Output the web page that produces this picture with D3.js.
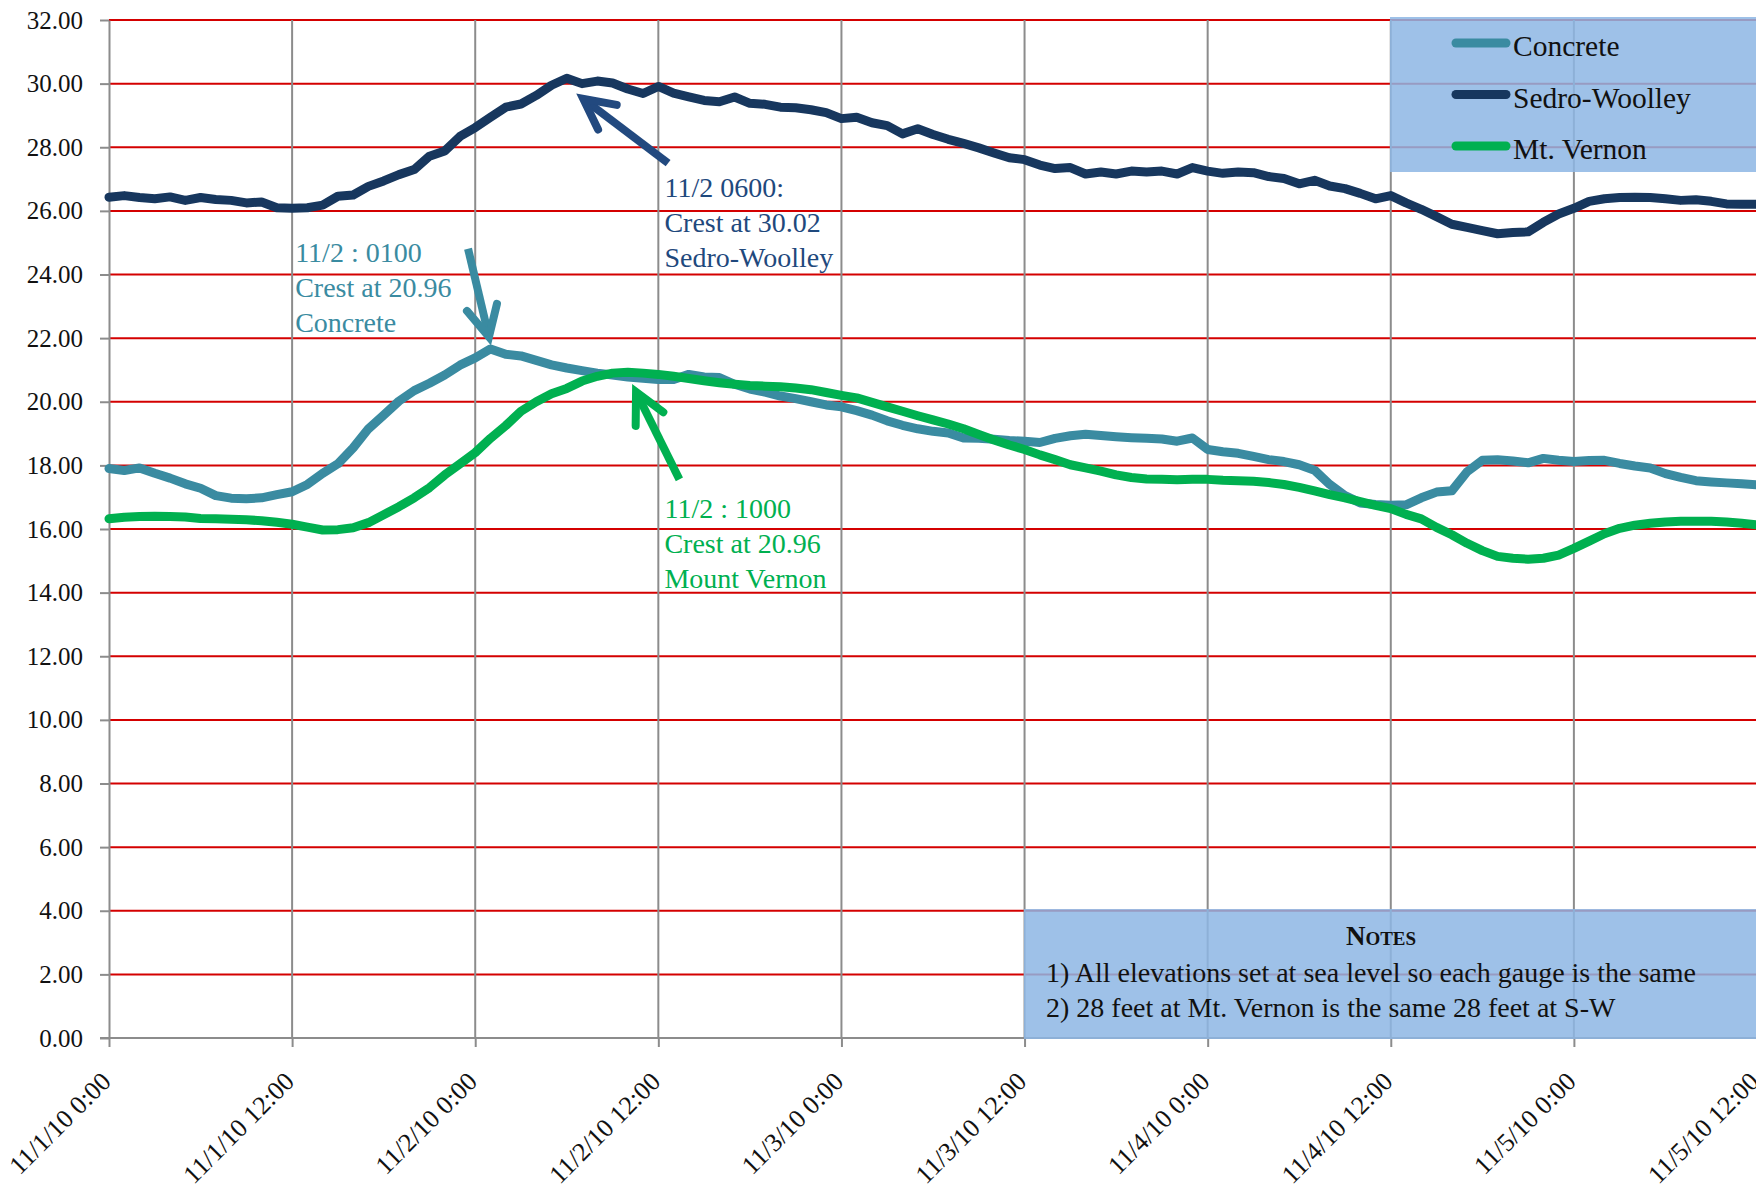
<!DOCTYPE html>
<html>

<head>
    <meta charset="utf-8">
    <title>River gauges 11/1 - 11/5</title>
    <script type="text/javascript" src="https://cdn.jsdelivr.net/npm/d3@7"></script>
    <style>
        body { margin: 0; background: #fff; }
        svg { display: block; font-family: "Liberation Serif", "DejaVu Serif", serif; }
    </style>
</head>

<body>

    <script type="text/javascript">
    /* data: hourly gauge readings starting 11/1/10 0:00 */
    var hours = d3.range(0, 109);

    var concrete = [
        17.90, 17.84, 17.92, 17.75, 17.60, 17.42, 17.28, 17.05, 16.97, 16.95,
        16.98, 17.08, 17.17, 17.40, 17.75, 18.05, 18.55, 19.15, 19.58, 20.02,
        20.35, 20.58, 20.84, 21.15, 21.38, 21.66, 21.49, 21.44, 21.30, 21.16,
        21.06, 20.98, 20.90, 20.84, 20.78, 20.74, 20.70, 20.70, 20.86, 20.78,
        20.76, 20.55, 20.40, 20.30, 20.18, 20.10, 20.00, 19.90, 19.84, 19.72,
        19.58, 19.40, 19.26, 19.15, 19.07, 19.02, 18.86, 18.85, 18.82, 18.78,
        18.76, 18.72, 18.85, 18.93, 18.98, 18.94, 18.90, 18.87, 18.85, 18.83,
        18.76, 18.86, 18.50, 18.43, 18.38, 18.28, 18.18, 18.12, 18.02, 17.85,
        17.40, 17.05, 16.82, 16.77, 16.75, 16.76, 16.98, 17.16, 17.20, 17.80,
        18.16, 18.18, 18.14, 18.08, 18.22, 18.16, 18.12, 18.15, 18.16, 18.06,
        17.98, 17.92, 17.74, 17.62, 17.52, 17.48, 17.45, 17.42, 17.39
    ];

    var sedroWoolley = [
        26.43, 26.48, 26.42, 26.38, 26.44, 26.33, 26.42, 26.36, 26.33, 26.25,
        26.28, 26.10, 26.08, 26.10, 26.18, 26.46, 26.50, 26.77, 26.94, 27.14,
        27.30, 27.72, 27.88, 28.34, 28.62, 28.94, 29.26, 29.36, 29.63, 29.95,
        30.17, 30.00, 30.08, 30.02, 29.83, 29.69, 29.91, 29.70, 29.58, 29.47,
        29.43, 29.58, 29.38, 29.35, 29.26, 29.24, 29.18, 29.09, 28.90, 28.94,
        28.77, 28.68, 28.42, 28.58, 28.40, 28.25, 28.12, 27.98, 27.82, 27.67,
        27.61, 27.44, 27.33, 27.36, 27.16, 27.22, 27.16, 27.25, 27.22, 27.25,
        27.16, 27.36, 27.25, 27.18, 27.22, 27.20, 27.08, 27.02, 26.85, 26.96,
        26.78, 26.70, 26.55, 26.38, 26.48, 26.25, 26.05, 25.82, 25.58, 25.48,
        25.38, 25.28, 25.32, 25.34, 25.64, 25.90, 26.08, 26.30, 26.38, 26.42,
        26.43, 26.42, 26.38, 26.33, 26.35, 26.30, 26.22, 26.21, 26.21
    ];

    var mtVernon = [
        16.32, 16.37, 16.39, 16.40, 16.39, 16.38, 16.33, 16.32, 16.31, 16.29,
        16.26, 16.21, 16.15, 16.06, 15.97, 15.98, 16.04, 16.20, 16.45, 16.70,
        16.98, 17.30, 17.70, 18.05, 18.40, 18.85, 19.25, 19.70, 20.00, 20.25,
        20.42, 20.65, 20.80, 20.90, 20.93, 20.90, 20.86, 20.80, 20.73, 20.66,
        20.60, 20.55, 20.51, 20.49, 20.47, 20.43, 20.38, 20.29, 20.20, 20.12,
        19.98, 19.84, 19.70, 19.56, 19.43, 19.30, 19.15, 18.97, 18.80, 18.64,
        18.50, 18.33, 18.18, 18.02, 17.92, 17.82, 17.70, 17.62, 17.57, 17.56,
        17.55, 17.56, 17.56, 17.53, 17.52, 17.50, 17.46, 17.40, 17.31, 17.20,
        17.08, 16.98, 16.86, 16.74, 16.64, 16.46, 16.32, 16.05, 15.82, 15.55,
        15.32, 15.14, 15.08, 15.05, 15.08, 15.18, 15.39, 15.62, 15.85, 16.02,
        16.12, 16.18, 16.22, 16.24, 16.24, 16.24, 16.22, 16.18, 16.13
    ];

    var seriesNames = ["Concrete", "Sedro-Woolley", "Mt. Vernon"];
    var seriesColors = ["#3a8ba1", "#17375e", "#00b050"];

    var yTicks = [0, 2, 4, 6, 8, 10, 12, 14, 16, 18, 20, 22, 24, 26, 28, 30, 32];
    var xTickHours = [0, 12, 24, 36, 48, 60, 72, 84, 96, 108];
    var xTickLabels = [
        "11/1/10 0:00", "11/1/10 12:00", "11/2/10 0:00", "11/2/10 12:00",
        "11/3/10 0:00", "11/3/10 12:00", "11/4/10 0:00", "11/4/10 12:00",
        "11/5/10 0:00", "11/5/10 12:00"
    ];

    /* crest call-outs: text position, arrow tail and tip in (hour, feet) */
    var calloutText = [
        ["11/2 : 0100", "Crest at 20.96", "Concrete"],
        ["11/2 0600:", "Crest at 30.02", "Sedro-Woolley"],
        ["11/2 : 1000", "Crest at 20.96", "Mount Vernon"]
    ];
    var calloutColors = ["#3a8ba1", "#1f497d", "#00b050"];
    var calloutAt = [[12.2, 24.4], [36.4, 26.45], [36.4, 16.35]];
    var arrowTail = [[23.53, 24.81], [36.64, 27.5], [37.38, 17.56]];
    var arrowTip = [[24.9, 22.04], [31.08, 29.52], [34.54, 20.31]];

    var notesTitle = "Notes";
    var notesLines = [
        "1) All elevations set at sea level so each gauge is the same",
        "2) 28 feet at Mt. Vernon is the same 28 feet at S-W"
    ];

    function GaugeChart() {
        var svgWidth = 1756;
        var svgHeight = 1193;
        var left = 109, right = 1757, top = 20, bottom = 1038;

        var svg = d3.select('body').append('svg')
            .attr('width', svgWidth)
            .attr('height', svgHeight);

        var x = d3.scaleLinear().domain([0, 108]).range([left, right]);
        var y = d3.scaleLinear().domain([0, 32]).range([bottom, top]);

        /* gridlines */
        svg.append('g').selectAll('line')
            .data(yTicks.filter(function(d) { return d > 0; }))
            .enter().append('line')
            .attr('x1', left).attr('x2', right)
            .attr('y1', function(d) { return y(d); })
            .attr('y2', function(d) { return y(d); })
            .attr('stroke', '#d40000')
            .attr('stroke-width', 2);

        svg.append('g').selectAll('line')
            .data(xTickHours.filter(function(d) { return d > 0; }))
            .enter().append('line')
            .attr('x1', function(d) { return x(d); })
            .attr('x2', function(d) { return x(d); })
            .attr('y1', top).attr('y2', bottom)
            .attr('stroke', '#8c8c8c')
            .attr('stroke-width', 2);

        /* axes */
        var yAxis = svg.append('g')
            .attr('transform', 'translate(' + left + ',0)')
            .call(d3.axisLeft(y).tickValues(yTicks).tickSize(9).tickSizeOuter(0)
                .tickFormat(function(d) { return d.toFixed(2); }));
        yAxis.selectAll('text')
            .attr('x', -26)
            .attr('font-size', '25px')
            .attr('font-family', '"Liberation Serif", serif')
            .attr('fill', '#111');

        var xAxis = svg.append('g')
            .attr('transform', 'translate(0,' + bottom + ')')
            .call(d3.axisBottom(x).tickValues(xTickHours).tickSize(9).tickSizeOuter(0)
                .tickFormat(function(d, i) { return xTickLabels[i]; }));
        xAxis.selectAll('text')
            .attr('y', 0).attr('dy', 0)
            .attr('text-anchor', 'end')
            .attr('transform', 'translate(3,45) rotate(-45)')
            .attr('font-size', '26px')
            .attr('font-family', '"Liberation Serif", serif')
            .attr('fill', '#111');

        svg.selectAll('.domain, .tick line')
            .attr('stroke', '#8c8c8c')
            .attr('stroke-width', 2);
        xAxis.select('.domain').attr('d', 'M' + (left - 9) + ',0H' + right);

        /* series */
        var series = [concrete, sedroWoolley, mtVernon];
        var line = d3.line()
            .x(function(d, i) { return x(hours[i]); })
            .y(function(d) { return y(d); });

        svg.append('g').selectAll('path')
            .data(series)
            .enter().append('path')
            .attr('d', line)
            .attr('fill', 'none')
            .attr('stroke', function(d, i) { return seriesColors[i]; })
            .attr('stroke-width', 9)
            .attr('stroke-linejoin', 'round')
            .attr('stroke-linecap', 'round');

        /* crest call-outs */
        calloutText.forEach(function(lines, k) {
            var g = svg.append('g').attr('fill', calloutColors[k]);
            g.selectAll('text')
                .data(lines)
                .enter().append('text')
                .attr('x', x(calloutAt[k][0]))
                .attr('y', function(d, i) { return y(calloutAt[k][1]) + i * 35; })
                .attr('font-size', '28px')
                .text(function(d) { return d; });

            var tx = x(arrowTip[k][0]), ty = y(arrowTip[k][1]);
            var sx = x(arrowTail[k][0]), sy = y(arrowTail[k][1]);
            var ang = Math.atan2(sy - ty, sx - tx);
            var len = 34, spread = 27 * Math.PI / 180;
            var b1 = [tx + len * Math.cos(ang - spread), ty + len * Math.sin(ang - spread)];
            var b2 = [tx + len * Math.cos(ang + spread), ty + len * Math.sin(ang + spread)];
            var arrowColor = k === 1 ? '#22497f' : calloutColors[k];
            svg.append('path')
                .attr('d', 'M' + sx + ',' + sy + 'L' + tx + ',' + ty)
                .attr('stroke', arrowColor)
                .attr('stroke-width', 8)
                .attr('fill', 'none');
            svg.append('path')
                .attr('d', 'M' + b1[0] + ',' + b1[1] + 'L' + tx + ',' + ty + 'L' + b2[0] + ',' + b2[1])
                .attr('stroke', arrowColor)
                .attr('stroke-width', 8)
                .attr('stroke-linejoin', 'miter')
                .attr('stroke-linecap', 'round')
                .attr('fill', 'none');
        });

        /* legend */
        var legend = svg.append('g');
        legend.append('rect')
            .attr('x', 1390).attr('y', 17)
            .attr('width', 400).attr('height', 155)
            .attr('fill', '#8db6e4')
            .attr('fill-opacity', 0.85);
        var item = legend.selectAll('g.item')
            .data(seriesNames)
            .enter().append('g')
            .attr('class', 'item')
            .attr('transform', function(d, i) { return 'translate(0,' + (43 + i * 51.5) + ')'; });
        item.append('line')
            .attr('x1', 1456).attr('x2', 1506)
            .attr('stroke', function(d, i) { return seriesColors[i]; })
            .attr('stroke-width', 9)
            .attr('stroke-linecap', 'round');
        item.append('text')
            .attr('x', 1513).attr('y', 13)
            .attr('font-size', '29.5px')
            .attr('fill', '#111')
            .text(function(d) { return d; });

        /* notes box */
        var notes = svg.append('g');
        notes.append('rect')
            .attr('x', 1024).attr('y', 909)
            .attr('width', 760).attr('height', 130)
            .attr('fill', '#8db6e4')
            .attr('fill-opacity', 0.85);
        notes.append('text')
            .attr('x', 1381).attr('y', 945)
            .attr('text-anchor', 'middle')
            .attr('font-size', '27px')
            .attr('font-weight', 'bold')
            .style('font-variant', 'small-caps')
            .attr('fill', '#111')
            .text(notesTitle);
        notes.selectAll('text.line')
            .data(notesLines)
            .enter().append('text')
            .attr('class', 'line')
            .attr('x', 1046)
            .attr('y', function(d, i) { return 982 + i * 35; })
            .attr('font-size', '28px')
            .attr('fill', '#111')
            .text(function(d) { return d; });
    }

    GaugeChart();
    </script>
</body>

</html>
